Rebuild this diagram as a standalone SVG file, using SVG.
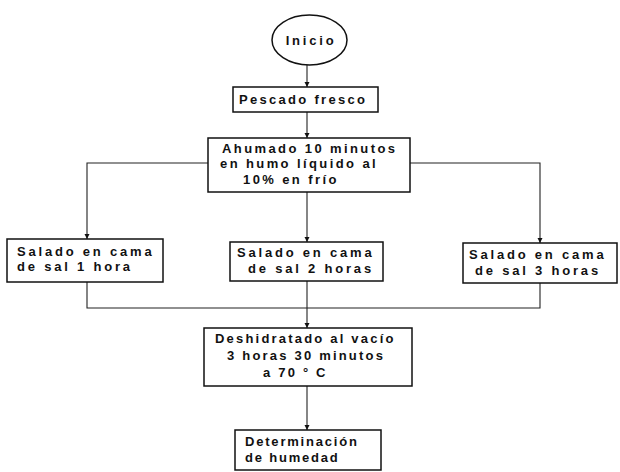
<svg xmlns="http://www.w3.org/2000/svg" width="620" height="472" viewBox="0 0 620 472">
<defs>
<style>
.box{fill:#fff;stroke:#111;stroke-width:1.5}
.t{font-family:"Liberation Sans",Arial,sans-serif;font-weight:bold;font-size:13px;letter-spacing:2.8px;fill:#111}
.c{fill:none;stroke:#222;stroke-width:1.1}
</style>
<marker id="ah" viewBox="0 0 6 6" refX="6" refY="3" markerWidth="5" markerHeight="5" orient="auto"><path d="M0,0 L6,3 L0,6 z" fill="#111"/></marker>
</defs>
<rect width="620" height="472" fill="#fff"/>
<g id="connectors">
<path class="c" d="M307,65 V87" marker-end="url(#ah)"/>
<path class="c" d="M307,112 V138" marker-end="url(#ah)"/>
<path class="c" d="M208,163 H87 V239" marker-end="url(#ah)"/>
<path class="c" d="M410,163 H540 V243" marker-end="url(#ah)"/>
<path class="c" d="M307,192 V242" marker-end="url(#ah)"/>
<path class="c" d="M87,282 V308 H540 V283"/>
<path class="c" d="M307,281 V328" marker-end="url(#ah)"/>
<path class="c" d="M307,386 V430" marker-end="url(#ah)"/>
</g>
<g id="inicio">
<ellipse class="box" cx="309.5" cy="40" rx="37.5" ry="25"/>
<text class="t" x="311" y="45" text-anchor="middle">Inicio</text>
</g>
<g id="pescado">
<rect class="box" x="233" y="87" width="145" height="25"/>
<text class="t" x="239" y="104" style="letter-spacing:2.3px">Pescado fresco</text>
</g>
<g id="ahumado">
<rect class="box" x="208" y="138" width="202" height="54"/>
<text class="t" x="222" y="153" style="letter-spacing:2.4px">Ahumado 10 minutos</text>
<text class="t" x="220" y="168" style="letter-spacing:2.4px">en humo líquido al</text>
<text class="t" x="243" y="184" style="letter-spacing:2.4px">10% en frío</text>
</g>
<g id="salado1">
<rect class="box" x="7" y="239" width="156" height="43"/>
<text class="t" x="17" y="256">Salado en cama</text>
<text class="t" x="17" y="271">de sal 1 hora</text>
</g>
<g id="salado2">
<rect class="box" x="230" y="242" width="153" height="39"/>
<text class="t" x="237" y="257">Salado en cama</text>
<text class="t" x="248" y="273">de sal 2 horas</text>
</g>
<g id="salado3">
<rect class="box" x="463" y="243" width="154" height="40"/>
<text class="t" x="469" y="259">Salado en cama</text>
<text class="t" x="475" y="275">de sal 3 horas</text>
</g>
<g id="deshidratado">
<rect class="box" x="204" y="328" width="208" height="58"/>
<text class="t" x="215" y="343" style="letter-spacing:2.2px">Deshidratado al vacío</text>
<text class="t" x="227" y="360" style="letter-spacing:2.2px">3 horas 30 minutos</text>
<text class="t" x="263" y="377" style="letter-spacing:2.2px">a 70 ° C</text>
</g>
<g id="determinacion">
<rect class="box" x="235" y="430" width="146" height="40"/>
<text class="t" x="245" y="446" style="letter-spacing:1.8px">Determinación</text>
<text class="t" x="245" y="462" style="letter-spacing:1.8px">de humedad</text>
</g>
</svg>
